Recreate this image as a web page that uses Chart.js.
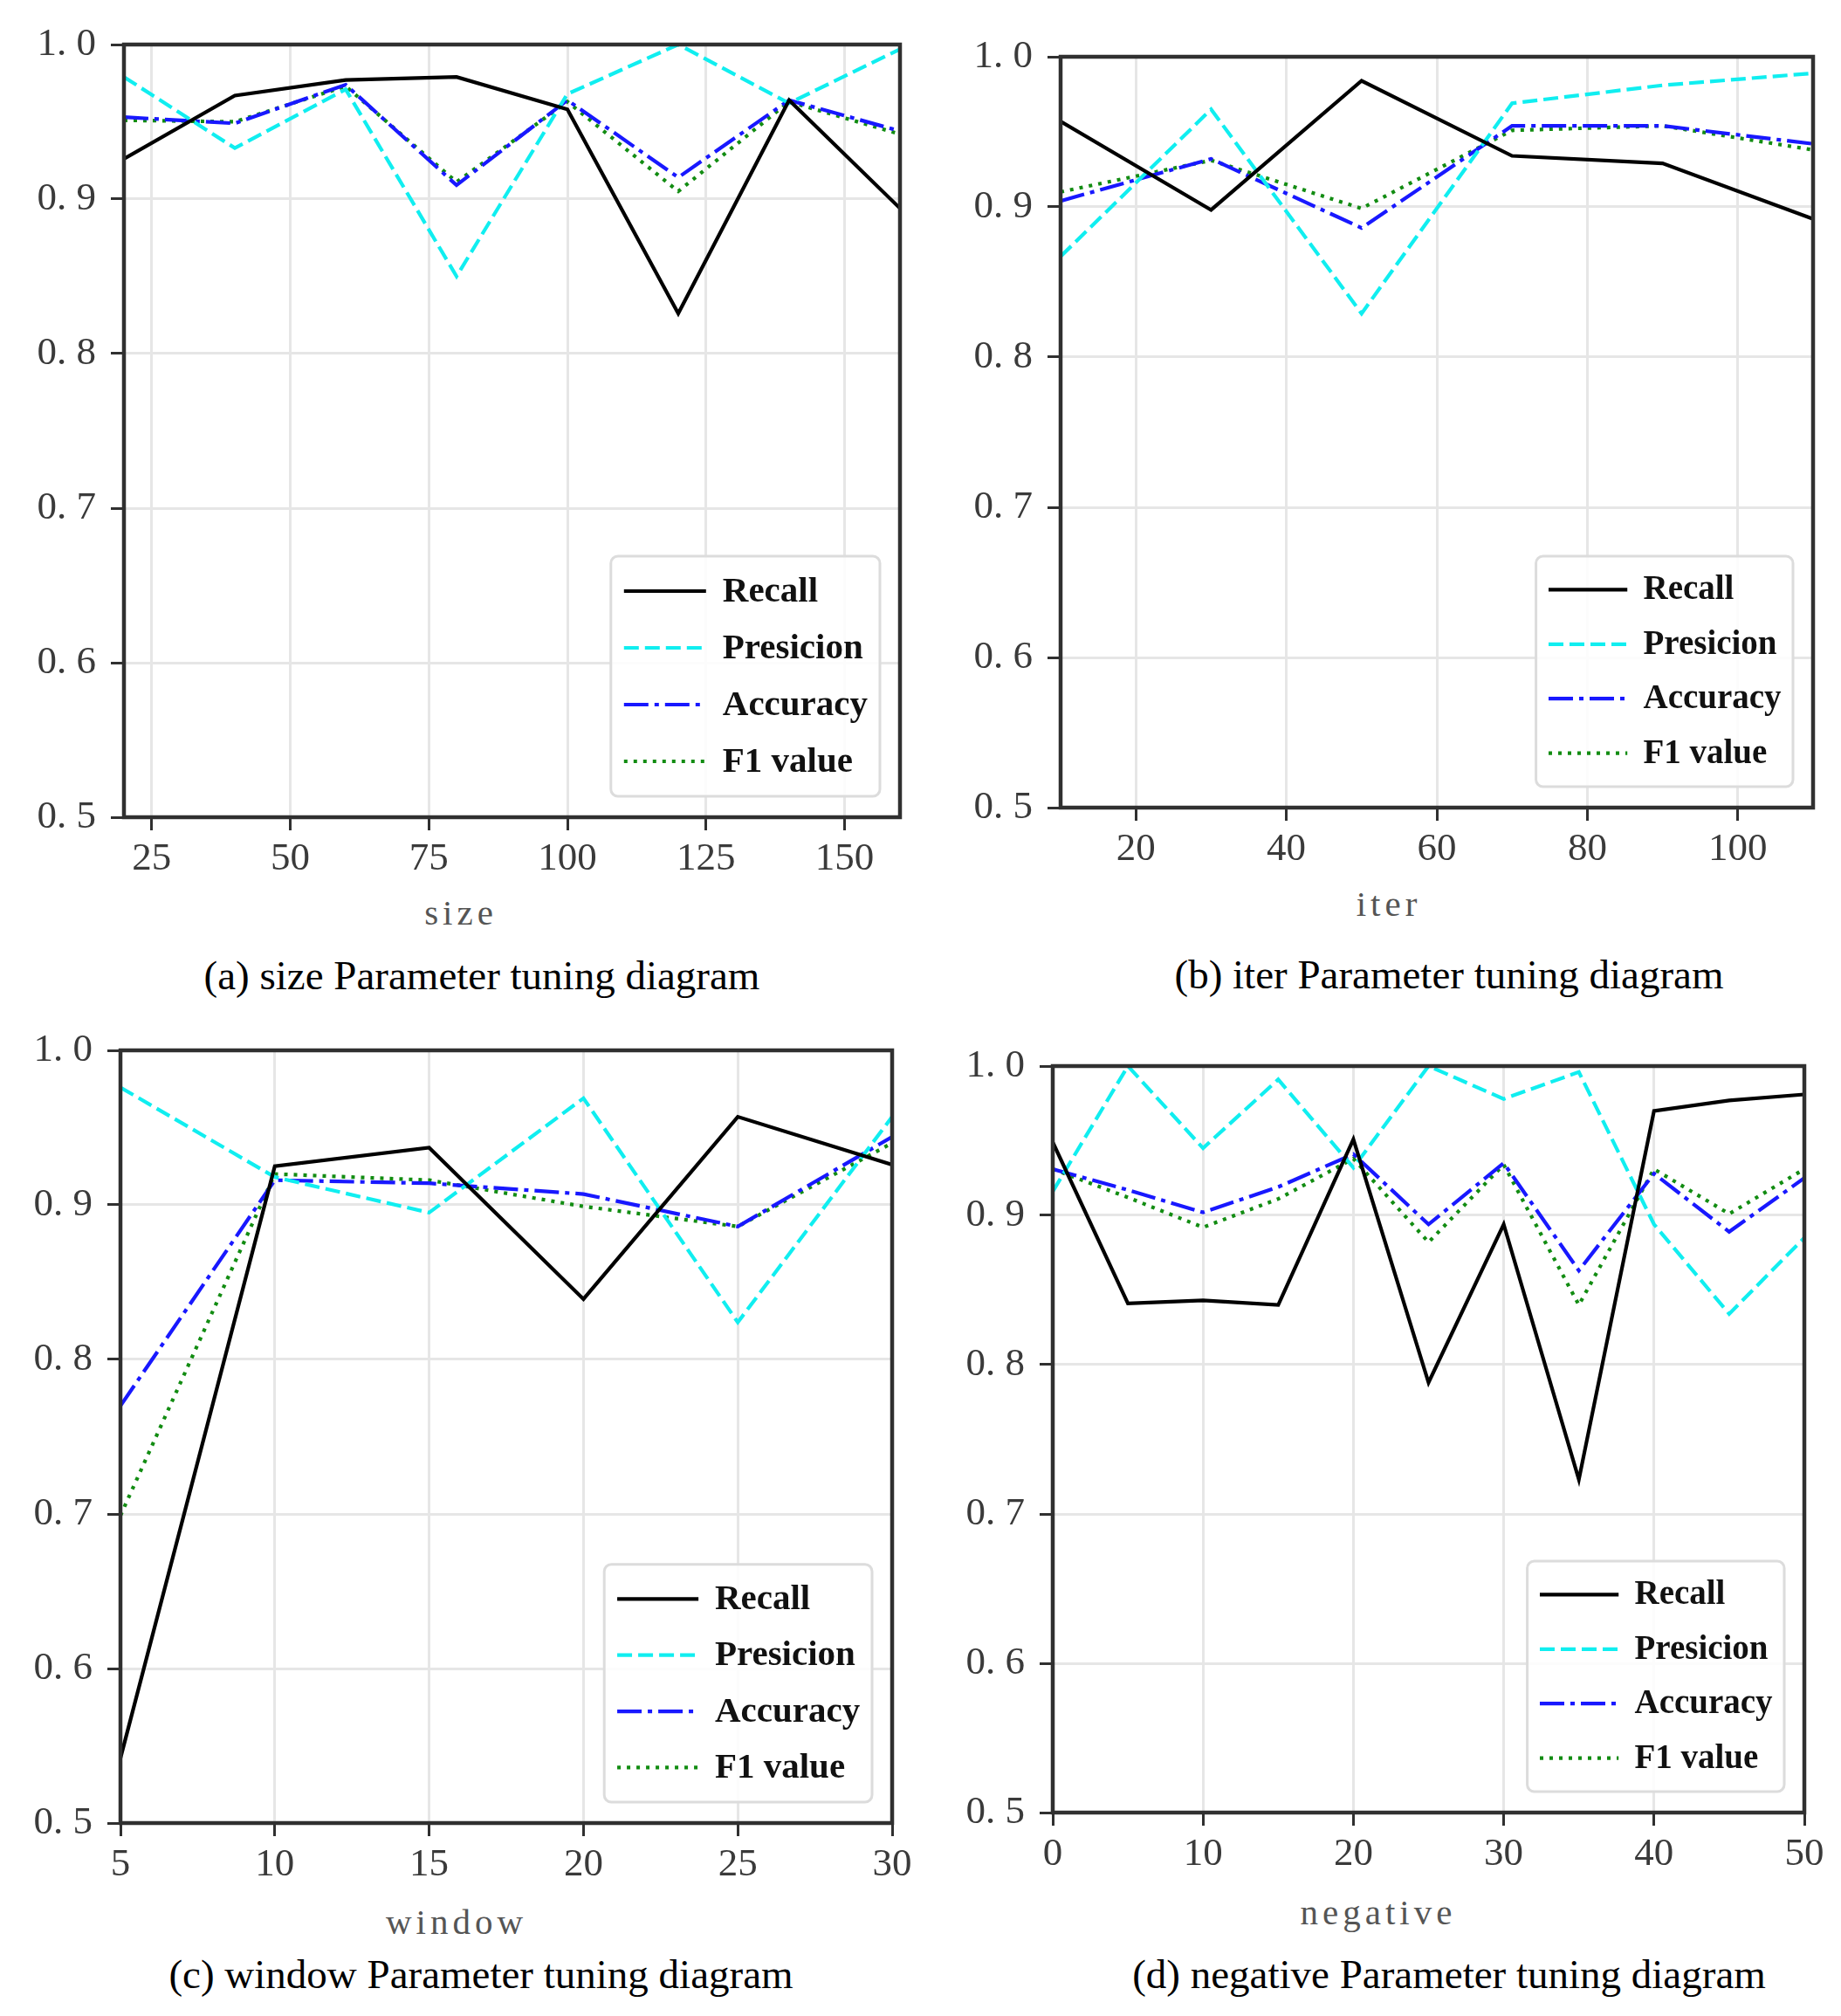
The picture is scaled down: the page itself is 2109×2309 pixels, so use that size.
<!DOCTYPE html>
<html>
<head>
<meta charset="utf-8">
<script src="https://cdn.jsdelivr.net/npm/chart.js@4.4.1/dist/chart.umd.min.js"></script>
<style>
html,body{margin:0;padding:0;background:#fff;}
#fig{position:relative;width:2109px;height:2309px;background:#fff;overflow:hidden;}
.panel{position:absolute;}
.txt{position:absolute;white-space:nowrap;transform:translate(-50%,-50%);font-family:"Liberation Serif",serif;line-height:1;}
.axt{font-size:41px;color:#555;letter-spacing:5px;}
.cap{font-size:47px;color:#000;}
</style>
</head>
<body>
<div id="fig"></div>
<script>
// ---------- data ----------
const seriesNames = ['Recall', 'Presicion', 'Accuracy', 'F1 value'];

const sizeX         = [20, 40, 60, 80, 100, 120, 140, 160];
const sizeRecall    = [0.926, 0.967, 0.977, 0.979, 0.958, 0.826, 0.964, 0.894];
const sizePrecision = [0.979, 0.933, 0.971, 0.850, 0.968, 1.000, 0.962, 0.997];
const sizeAccuracy  = [0.953, 0.949, 0.974, 0.909, 0.964, 0.914, 0.964, 0.944];
const sizeF1        = [0.951, 0.950, 0.973, 0.911, 0.963, 0.905, 0.963, 0.942];

const iterX         = [10, 30, 50, 70, 90, 110];
const iterRecall    = [0.957, 0.898, 0.984, 0.934, 0.929, 0.892];
const iterPrecision = [0.867, 0.965, 0.829, 0.969, 0.981, 0.989];
const iterAccuracy  = [0.904, 0.932, 0.886, 0.954, 0.954, 0.942];
const iterF1        = [0.910, 0.931, 0.899, 0.951, 0.954, 0.938];

const windowX         = [5, 10, 15, 20, 25, 30];
const windowRecall    = [0.542, 0.925, 0.937, 0.839, 0.957, 0.926];
const windowPrecision = [0.976, 0.918, 0.895, 0.969, 0.824, 0.957];
const windowAccuracy  = [0.770, 0.916, 0.914, 0.907, 0.886, 0.944];
const windowF1        = [0.699, 0.920, 0.916, 0.899, 0.886, 0.940];

const negativeX         = [0, 5, 10, 15, 20, 25, 30, 35, 40, 45, 50];
const negativeRecall    = [0.949, 0.841, 0.843, 0.840, 0.951, 0.788, 0.894, 0.723, 0.970, 0.977, 0.981];
const negativePrecision = [0.916, 1.000, 0.945, 0.991, 0.932, 1.000, 0.978, 0.996, 0.894, 0.834, 0.885];
const negativeAccuracy  = [0.931, 0.917, 0.902, 0.919, 0.941, 0.894, 0.935, 0.863, 0.928, 0.889, 0.925];
const negativeF1        = [0.931, 0.912, 0.892, 0.911, 0.938, 0.882, 0.934, 0.840, 0.931, 0.901, 0.931];

const yTicks        = [0.5, 0.6, 0.7, 0.8, 0.9, 1.0];
const sizeTicks     = [25, 50, 75, 100, 125, 150];
const iterTicks     = [20, 40, 60, 80, 100];
const windowTicks   = [5, 10, 15, 20, 25, 30];
const negativeTicks = [0, 10, 20, 30, 40, 50];

const axisTitles = ['size', 'iter', 'window', 'negative'];
const captions = [
  '(a) size Parameter tuning diagram',
  '(b) iter Parameter tuning diagram',
  '(c) window Parameter tuning diagram',
  '(d) negative Parameter tuning diagram'
];

// ---------- styles ----------
const lineStyles = [
  {color: '#000000', dash: [], width: 4.2},
  {color: '#10eef0', dash: [17, 7], width: 4.2},
  {color: '#1818ff', dash: [28, 7, 5, 7], width: 4.2},
  {color: '#128c12', dash: [4, 7], width: 4.2}
];

const panels = [
  {x: 0, y: 0, w: 1054, h: 1010, l: 142, t: 51, r: 1031, b: 936, xMin: 20, xMax: 160,
   xs: sizeX, ys: [sizeRecall, sizePrecision, sizeAccuracy, sizeF1], ticks: sizeTicks,
   title: axisTitles[0], tx: 528, ty: 1045, cap: captions[0], cx: 552, cy: 1117, ls: 1.0},
  {x: 1054, y: 0, w: 1055, h: 1000, l: 1215, t: 65, r: 2077, b: 925, xMin: 10, xMax: 110,
   xs: iterX, ys: [iterRecall, iterPrecision, iterAccuracy, iterF1], ticks: iterTicks,
   title: axisTitles[1], tx: 1591, ty: 1035, cap: captions[1], cx: 1660, cy: 1116, ls: 0.96},
  {x: 0, y: 1150, w: 1054, h: 1010, l: 138, t: 1203, r: 1022, b: 2088, xMin: 5, xMax: 30,
   xs: windowX, ys: [windowRecall, windowPrecision, windowAccuracy, windowF1], ticks: windowTicks,
   title: axisTitles[2], tx: 523, ty: 2201, cap: captions[2], cx: 551, cy: 2261, ls: 0.99},
  {x: 1054, y: 1150, w: 1055, h: 1010, l: 1206, t: 1221, r: 2067, b: 2076, xMin: 0, xMax: 50,
   xs: negativeX, ys: [negativeRecall, negativePrecision, negativeAccuracy, negativeF1], ticks: negativeTicks,
   title: axisTitles[3], tx: 1579, ty: 2190, cap: captions[3], cx: 1660, cy: 2261, ls: 0.96}
];

// ---------- plugin: frame + in-axes legend ----------
const frameLegend = {
  id: 'frameLegend',
  afterDatasetsDraw(chart, args, opts) {
    const {ctx, chartArea: a} = chart;
    ctx.save();
    ctx.setLineDash([]);
    ctx.strokeStyle = '#303030';
    ctx.lineWidth = 4.5;
    ctx.strokeRect(a.left, a.top, a.right - a.left, a.bottom - a.top);

    const s = opts.scale || 1;
    const fs = Math.round(41 * s);
    ctx.font = 'bold ' + fs + 'px "Liberation Serif", serif';
    const ds = chart.data.datasets;
    const maxW = Math.max.apply(null, ds.map(d => ctx.measureText(d.label).width));
    const w = (128 + 14) * s + maxW;
    const h = 275 * s;
    const x0 = a.right - 23 - w;
    const y0 = a.bottom - 24 - h;
    ctx.beginPath();
    if (ctx.roundRect) ctx.roundRect(x0, y0, w, h, 8); else ctx.rect(x0, y0, w, h);
    ctx.fillStyle = 'rgba(255,255,255,0.85)';
    ctx.fill();
    ctx.lineWidth = 3;
    ctx.strokeStyle = '#dcdcdc';
    ctx.stroke();
    ds.forEach((d, i) => {
      const y = y0 + (40 + 65 * i) * s;
      ctx.beginPath();
      ctx.setLineDash(d.borderDash || []);
      ctx.strokeStyle = d.borderColor;
      ctx.lineWidth = d.borderWidth;
      ctx.moveTo(x0 + 15 * s, y);
      ctx.lineTo(x0 + 109 * s, y);
      ctx.stroke();
      ctx.setLineDash([]);
      ctx.fillStyle = '#111';
      ctx.textBaseline = 'middle';
      ctx.textAlign = 'left';
      ctx.fillText(d.label, x0 + 128 * s, y + 1);
    });
    ctx.restore();
  }
};

const fig = document.getElementById('fig');

panels.forEach(p => {
  const div = document.createElement('div');
  div.className = 'panel';
  div.style.left = p.x + 'px';
  div.style.top = p.y + 'px';
  div.style.width = p.w + 'px';
  div.style.height = p.h + 'px';
  const cv = document.createElement('canvas');
  cv.width = p.w; cv.height = p.h;
  cv.style.width = p.w + 'px'; cv.style.height = p.h + 'px';
  div.appendChild(cv);
  fig.appendChild(div);

  const yW = p.l - p.x;
  const padTop = p.t - p.y;
  const padRight = (p.x + p.w) - p.r;
  const xH = (p.y + p.h) - p.b;

  const datasets = p.ys.map((vals, i) => ({
    label: seriesNames[i],
    data: p.xs.map((xv, j) => ({x: xv, y: vals[j]})),
    borderColor: lineStyles[i].color,
    backgroundColor: lineStyles[i].color,
    borderDash: lineStyles[i].dash,
    borderWidth: lineStyles[i].width,
    pointRadius: 0,
    tension: 0,
    fill: false
  }));

  const tickFont = {family: '"Liberation Serif", serif', size: 45};

  new Chart(cv, {
    type: 'line',
    data: {datasets},
    options: {
      responsive: false,
      animation: false,
      layout: {padding: {left: 0, top: padTop, right: padRight, bottom: 0}},
      plugins: {legend: {display: false}, tooltip: {enabled: false}, frameLegend: {scale: p.ls}},
      scales: {
        x: {
          type: 'linear', min: p.xMin, max: p.xMax,
          afterBuildTicks: sc => { sc.ticks = p.ticks.map(v => ({value: v})); },
          afterFit: sc => { sc.height = xH; },
          grid: {color: '#e6e6e6', lineWidth: 3, drawTicks: true, tickLength: 15, tickColor: '#303030', tickWidth: 3},
          border: {display: false},
          ticks: {font: tickFont, color: '#3a3a3a', padding: 6, maxRotation: 0, autoSkip: false,
                  callback: v => String(v)}
        },
        y: {
          type: 'linear', min: 0.5, max: 1.0,
          afterBuildTicks: sc => { sc.ticks = yTicks.map(v => ({value: v})); },
          afterFit: sc => { sc.width = yW; },
          grid: {color: '#e6e6e6', lineWidth: 3, drawTicks: true, tickLength: 15, tickColor: '#303030', tickWidth: 3},
          border: {display: false},
          ticks: {font: tickFont, color: '#3a3a3a', padding: 17, autoSkip: false,
                  callback: v => Number(v).toFixed(1).replace('.', '. ')}
        }
      }
    },
    plugins: [frameLegend]
  });

  const t = document.createElement('div');
  t.className = 'txt axt';
  t.style.left = p.tx + 'px'; t.style.top = p.ty + 'px';
  t.textContent = p.title;
  fig.appendChild(t);

  const c = document.createElement('div');
  c.className = 'txt cap';
  c.style.left = p.cx + 'px'; c.style.top = p.cy + 'px';
  c.textContent = p.cap;
  fig.appendChild(c);
});
</script>
</body>
</html>
